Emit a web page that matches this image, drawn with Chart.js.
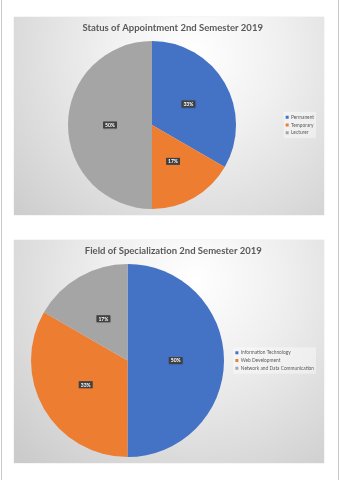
<!DOCTYPE html>
<html>
<head>
<meta charset="utf-8">
<script src="https://cdn.jsdelivr.net/npm/chart.js@4/dist/chart.umd.min.js"></script>
<style>
  html, body { margin: 0; padding: 0; background: #fff; }
  #page { position: relative; width: 339px; height: 480px; overflow: hidden; }
  #frame { position: absolute; left: 1px; top: 0; width: 338px; height: 480px;
           border-left: 1px solid #c9c9c9; border-right: 1px solid #c9c9c9; box-sizing: border-box; }
  .box { position: absolute; left: 14px; width: 310px; box-shadow: 0 0 1px #c8c8c8; }
  #box1 { top: 17px; height: 198px; }
  #box2 { top: 240px; height: 223px; }
</style>
</head>
<body>
<div id="page">
  <div id="frame"></div>
  <div class="box" id="box1"><canvas id="chart1"></canvas></div>
  <div class="box" id="box2"><canvas id="chart2"></canvas></div>
</div>
<script>
"use strict";

// 1: data
const appointmentTitle = 'Status of Appointment 2nd Semester 2019';
const appointmentLabels = ['Permanent', 'Temporary', 'Lecturer'];
const appointmentValues = [2, 1, 3];

const specializationTitle = 'Field of Specialization 2nd Semester 2019';
const specializationLabels = ['Information Technology', 'Web Development', 'Network and Data Communication'];
const specializationValues = [3, 2, 1];

const sliceColors = ['#4472c4', '#ed7d31', '#a5a5a5'];

// 2: little plugins for the excel look
const backgroundPlugin = {
  id: 'bg',
  beforeDraw(chart) {
    const ctx = chart.ctx, w = chart.width, h = chart.height;
    const g = ctx.createRadialGradient(w * 0.58, h * 0.18, 0, w * 0.58, h * 0.18, w * 0.8);
    g.addColorStop(0, '#ffffff');
    g.addColorStop(0.35, '#f0f0f0');
    g.addColorStop(1, '#cbcbcb');
    ctx.save();
    ctx.fillStyle = g;
    ctx.fillRect(0, 0, w, h);
    // light panel behind the legend
    const boxes = chart.legend.legendHitBoxes;
    if (boxes && boxes.length) {
      let x0 = Infinity, y0 = Infinity, x1 = -Infinity, y1 = -Infinity;
      for (const b of boxes) {
        x0 = Math.min(x0, b.left); y0 = Math.min(y0, b.top);
        x1 = Math.max(x1, b.left + b.width); y1 = Math.max(y1, b.top + b.height);
      }
      ctx.fillStyle = 'rgba(255,255,255,0.4)';
      ctx.fillRect(x0 - 2, y0 - 3, x1 - x0 + 4, y1 - y0 + 6);
    }
    ctx.restore();
  }
};

const percentPlugin = {
  id: 'pct',
  afterDatasetsDraw(chart) {
    const ctx = chart.ctx;
    const meta = chart.getDatasetMeta(0);
    const values = chart.data.datasets[0].data;
    const total = values.reduce((a, b) => a + b, 0);
    ctx.save();
    ctx.font = 'bold 5px Lato';
    ctx.textAlign = 'center';
    ctx.textBaseline = 'middle';
    meta.data.forEach((arc, i) => {
      const p = arc.tooltipPosition();
      const txt = Math.round(values[i] / total * 100) + '%';
      const tw = ctx.measureText(txt).width + 4;
      ctx.shadowColor = 'rgba(0,0,0,0.35)';
      ctx.shadowBlur = 1.5;
      ctx.shadowOffsetX = 0.5;
      ctx.shadowOffsetY = 0.5;
      ctx.fillStyle = '#404040';
      ctx.fillRect(p.x - tw / 2, p.y - 3.5, tw, 7);
      ctx.shadowColor = 'transparent';
      ctx.fillStyle = '#ffffff';
      ctx.fillText(txt, p.x, p.y + 0.3);
    });
    ctx.restore();
  }
};

// 3: create the charts
function makePie(canvasId, title, labels, values, centerX, legendLeft) {
  const chart = new Chart(document.getElementById(canvasId), {
    type: 'pie',
    data: {
      labels: labels,
      datasets: [{
        data: values,
        backgroundColor: sliceColors,
        borderWidth: 0,
        hoverOffset: 0
      }]
    },
    options: {
      responsive: true,
      maintainAspectRatio: false,
      animation: false,
      layout: { padding: { top: 0, bottom: 6, left: 0, right: 0 } },
      plugins: {
        title: {
          display: true,
          text: title,
          color: '#595959',
          font: { family: 'Lato', size: 9.5, weight: 'bold' },
          padding: { top: 5, bottom: 7.6 }
        },
        legend: {
          position: 'right',
          fullSize: false,
          labels: {
            boxWidth: 3,
            boxHeight: 3,
            padding: 3,
            color: '#595959',
            font: { family: 'Lato', size: 4.8 }
          }
        },
        tooltip: { enabled: false }
      }
    },
    plugins: [backgroundPlugin, percentPlugin]
  });
  // nudge legend and pie to where the original has them
  const pad = chart.options.layout.padding;
  for (let k = 0; k < 3; k++) {
    pad.right = Math.max(0, pad.right + (chart.legend.left - legendLeft));
    chart.update();
    const area = chart.chartArea;
    pad.left = pad.left + (2 * centerX - area.left - area.right);
    chart.update();
  }
  return chart;
}

makePie('chart1', appointmentTitle, appointmentLabels, appointmentValues, 138, 274);
makePie('chart2', specializationTitle, specializationLabels, specializationValues, 113.5, 226);
</script>
</body>
</html>
